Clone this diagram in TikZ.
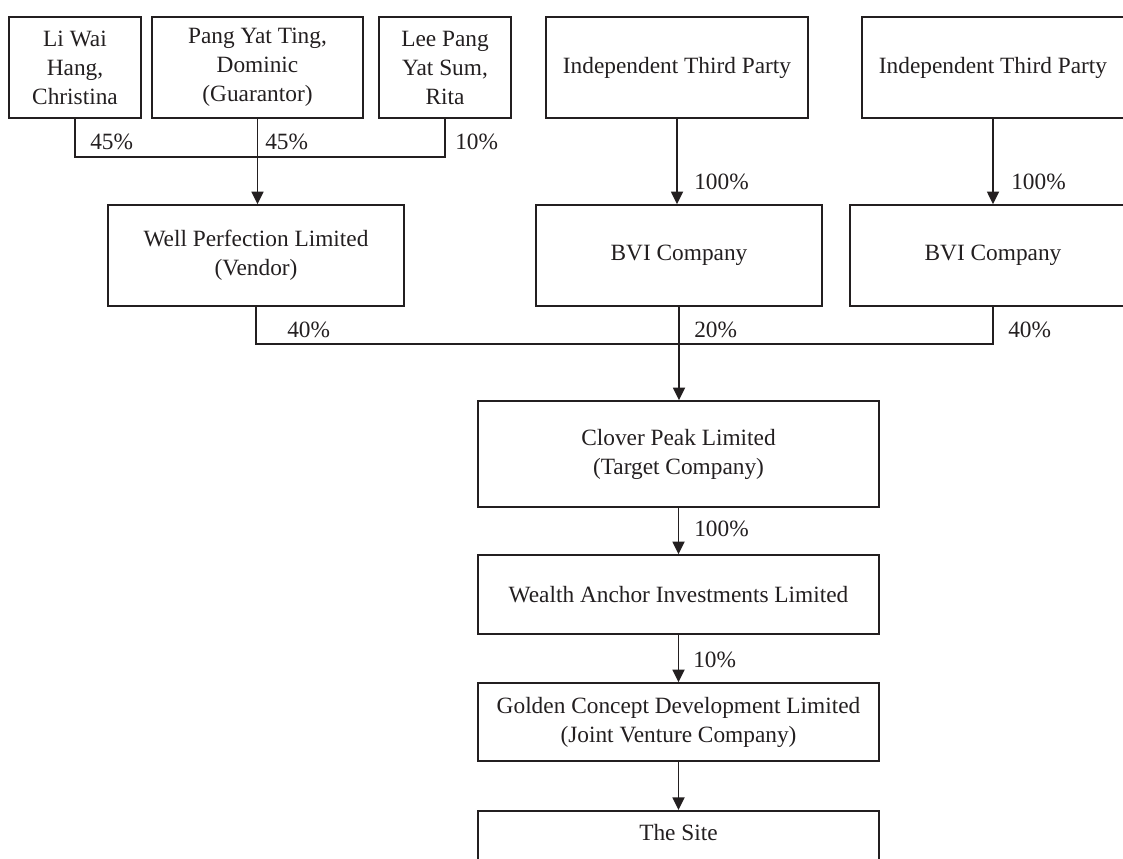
\documentclass[tikz,border=0pt]{standalone}
\usepackage{fontspec}
\setmainfont{Liberation Serif}
\usetikzlibrary{arrows.meta}
\definecolor{ink}{HTML}{231F20}
\tikzset{
  box/.style={draw=ink, line width=1.2pt, rectangle, inner sep=0pt, align=center, text=ink,
     font=\fontsize{17.5}{21.75}\selectfont},
  pct/.style={anchor=west, inner sep=0pt, text=ink, font=\fontsize{17.5}{21.75}\selectfont},
  conn/.style={draw=ink, line width=1.3pt},
  arr/.style={conn, -{Triangle[length=9.5pt,width=9pt]}}
}
\begin{document}
\begin{tikzpicture}[x=0.75pt,y=-0.75pt]
\useasboundingbox (0,0) rectangle (1123,859);
\clip (0,0) rectangle (1123,859);
% top row
\node[box, minimum width=99pt, minimum height=75.75pt] (li) at (75,67.5) {Li Wai\\Hang,\\Christina};
\node[box, minimum width=158.25pt, minimum height=75.75pt] (pang) at (257.5,67.5) {Pang Yat Ting,\\Dominic\\(Guarantor)};
\node[box, minimum width=99pt, minimum height=75.75pt] (lee) at (445,67.5) {Lee Pang\\Yat Sum,\\Rita};
\node[box, minimum width=196.5pt, minimum height=75.75pt] (ind1) at (677,67.5) {Independent Third Party};
\node[box, minimum width=196.5pt, minimum height=75.75pt] (ind2) at (993,67.5) {Independent Third Party};
% second row
\node[box, minimum width=222pt, minimum height=75.75pt] (well) at (256,255.5) {Well Perfection Limited\\(Vendor)};
\node[box, minimum width=214.5pt, minimum height=75.75pt] (bvi1) at (679,255.5) {BVI Company};
\node[box, minimum width=214.5pt, minimum height=75.75pt] (bvi2) at (993,255.5) {BVI Company};
% chain
\node[box, minimum width=300.75pt, minimum height=79.5pt] (clover) at (678.5,454) {Clover Peak Limited\\(Target Company)};
\node[box, minimum width=300.75pt, minimum height=59.25pt] (wealth) at (678.5,594.5) {Wealth Anchor Investments Limited};
\node[box, minimum width=300.75pt, minimum height=58.5pt] (golden) at (678.5,722) {Golden Concept Development Limited\\(Joint Venture Company)};
\node[box, minimum width=300.75pt, minimum height=60pt, anchor=north] (site) at (678.5,810) {};
\node[pct, anchor=center] (sitelbl) at (678.5,833) {The Site};
% connectors top-left
\coordinate (hl) at (75,157);
\coordinate (hr) at (445,157);
\draw[conn] (li.south) -- (hl) -- (hr) -- (lee.south);
\draw[arr] (pang.south) -- (pang.south |- well.north);
% middle join
\coordinate (mr) at (993,344);
\draw[conn] (well.south) |- (mr) -- (bvi2.south);
\draw[arr] (bvi1.south) -- (bvi1.south |- clover.north);
\draw[arr] (ind1.south) -- (ind1.south |- bvi1.north);
\draw[arr] (ind2.south) -- (bvi2.north);
\draw[arr] (clover.south) -- (wealth.north);
\draw[arr] (wealth.south) -- (golden.north);
\draw[arr] (golden.south) -- (site.north);
% percentages
\node[pct] (p1) at (90,142) {45\%};
\node[pct] (p2) at (265,142) {45\%};
\node[pct] (p3) at (455,142) {10\%};
\node[pct] (p4) at (694,182) {100\%};
\node[pct] (p5) at (1011,182) {100\%};
\node[pct] (p6) at (287,330) {40\%};
\node[pct] (p7) at (694,330) {20\%};
\node[pct] (p8) at (1008,330) {40\%};
\node[pct] (p9) at (694,529) {100\%};
\node[pct] (p10) at (693,660) {10\%};
\end{tikzpicture}
\end{document}
